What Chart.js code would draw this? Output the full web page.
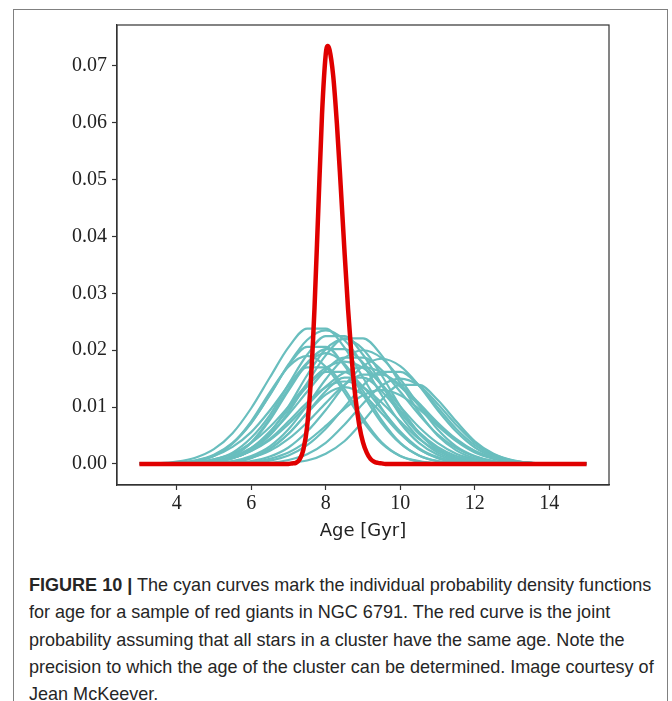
<!DOCTYPE html>
<html>
<head>
<meta charset="utf-8">
<script src="https://cdn.jsdelivr.net/npm/chart.js@4.4.1/dist/chart.umd.min.js"></script>
<style>
  html, body { margin:0; padding:0; background:#fff; width:672px; height:701px; overflow:hidden; }
  #frame { position:absolute; left:13px; top:9px; width:653px; height:720px; border:1.5px solid #808080; border-bottom:none; }
  #plot { position:absolute; left:0; top:0; }
  #caption { position:absolute; left:29px; top:571px; font-family:"Liberation Sans", Arial, sans-serif; font-size:18.5px; line-height:27.3px; color:#262626; white-space:nowrap; transform:scaleX(0.975); transform-origin:0 0; }
  #caption b { font-weight:bold; }
</style>
</head>
<body>
<div id="frame"></div>
<canvas id="plot" width="672" height="560"></canvas>
<div id="caption"><b>FIGURE 10 |</b> The cyan curves mark the individual probability density functions<br>for age for a sample of red giants in NGC 6791. The red curve is the joint<br>probability assuming that all stars in a cluster have the same age. Note the<br>precision to which the age of the cluster can be determined. Image courtesy of<br>Jean McKeever.</div>
<script>
// age grid (Gyr) shared by the individual star pdfs
const ageGrid = [3.0,3.5,4.0,4.5,5.0,5.5,6.0,6.5,7.0,7.5,8.0,8.5,9.0,9.5,10.0,10.5,11.0,11.5,12.0,12.5,13.0,13.5,14.0,14.5,15.0];

// individual pdfs, density x 1000
const star01 = [0,0.1,0.4,1.1,2.6,5.4,9.8,15.2,20.5,23.8,23.8,20.5,15.2,9.8,5.4,2.6,1.1,0.4,0.1,0,0,0,0,0,0];
const star02 = [0,0.1,0.2,0.6,1.6,3.7,7.2,12.1,17.5,21.8,23.5,21.8,17.5,12.1,7.2,3.7,1.6,0.6,0.2,0.1,0,0,0,0,0];
const star03 = [0,0,0.1,0.3,0.8,2.0,4.6,8.6,14.0,19.2,22.5,22.5,19.2,14.0,8.6,4.6,2.0,0.8,0.3,0.1,0,0,0,0,0];
const star04 = [0,0,0,0.1,0.4,1.0,2.4,5.0,9.1,14.2,19.1,22.1,22.1,19.1,14.2,9.1,5.0,2.4,1.0,0.4,0.1,0,0,0,0];
const star05 = [0,0,0,0.1,0.3,1.0,2.5,5.5,10.1,15.6,20.2,22.0,20.2,15.6,10.1,5.5,2.5,1.0,0.3,0.1,0,0,0,0,0];
const star06 = [0,0,0.2,0.5,1.5,3.6,7.2,12.2,17.3,20.6,20.6,17.3,12.2,7.2,3.6,1.5,0.5,0.2,0,0,0,0,0,0,0];
const star07 = [0,0.1,0.2,0.6,1.4,3.0,5.6,9.4,13.8,17.8,20.2,20.2,17.8,13.8,9.4,5.6,3.0,1.4,0.6,0.2,0.1,0,0,0,0];
const star08 = [0,0,0,0.1,0.2,0.5,1.4,3.1,6.1,10.3,14.9,18.6,20.0,18.6,14.9,10.3,6.1,3.1,1.4,0.5,0.2,0.1,0,0,0];
const star09 = [0,0,0,0.1,0.5,1.5,3.7,7.7,12.9,17.6,19.5,17.6,12.9,7.7,3.7,1.5,0.5,0.1,0,0,0,0,0,0,0];
const star10 = [0,0,0.1,0.2,0.5,1.3,2.8,5.2,8.7,12.7,16.5,18.7,18.7,16.5,12.7,8.7,5.2,2.8,1.3,0.5,0.2,0.1,0,0,0];
const star11 = [0,0,0,0,0,0.2,0.5,1.3,2.9,5.7,9.5,13.8,17.2,18.5,17.2,13.8,9.5,5.7,2.9,1.3,0.5,0.2,0,0,0];
const star12 = [0,0,0.1,0.3,0.8,1.8,3.7,6.5,10.1,14.0,16.9,18.0,16.9,14.0,10.1,6.5,3.7,1.8,0.8,0.3,0.1,0,0,0,0];
const star13 = [0,0,0,0.1,0.4,1.4,3.8,8.0,13.2,17.0,17.0,13.2,8.0,3.8,1.4,0.4,0.1,0,0,0,0,0,0,0,0];
const star14 = [0,0,0.1,0.2,0.5,1.1,2.3,4.2,7.0,10.3,13.6,16.1,17.0,16.1,13.6,10.3,7.0,4.2,2.3,1.1,0.5,0.2,0.1,0,0];
const star15 = [0,0,0,0.1,0.4,1.2,2.8,5.7,9.6,13.6,16.2,16.2,13.6,9.6,5.7,2.8,1.2,0.4,0.1,0,0,0,0,0,0];
const star16 = [0,0,0,0.1,0.2,0.4,1.1,2.3,4.4,7.3,10.7,13.9,15.7,15.7,13.9,10.7,7.3,4.4,2.3,1.1,0.4,0.2,0.1,0,0];
const star17 = [0,0,0,0,0.1,0.4,1.1,2.7,5.3,9.0,12.8,15.2,15.2,12.8,9.0,5.3,2.7,1.1,0.4,0.1,0,0,0,0,0];
const star18 = [0,0,0,0,0,0,0.1,0.2,0.7,1.7,3.7,6.9,10.6,13.8,15.0,13.8,10.6,6.9,3.7,1.7,0.7,0.2,0.1,0,0];
const star19 = [0,0,0,0.1,0.4,1.0,2.3,4.4,7.5,10.8,13.5,14.5,13.5,10.8,7.5,4.4,2.3,1.0,0.4,0.1,0,0,0,0,0];
const star20 = [0,0,0,0,0,0,0,0,0.2,0.6,1.8,4.0,7.5,11.3,13.9,13.9,11.3,7.5,4.0,1.8,0.6,0.2,0,0,0];
const star21 = [0,0,0,0,0.1,0.3,1.0,2.6,5.3,8.9,12.2,13.5,12.2,8.9,5.3,2.6,1.0,0.3,0.1,0,0,0,0,0,0];
const star22 = [0,0,0,0,0,0.1,0.3,0.9,2.0,4.0,6.7,9.7,12.1,13.0,12.1,9.7,6.7,4.0,2.0,0.9,0.3,0.1,0,0,0];
const star23 = [0,0,0.1,0.5,1.4,3.6,7.5,12.6,17.1,19.0,17.1,12.6,7.5,3.6,1.4,0.5,0.1,0,0,0,0,0,0,0,0];
const star24 = [0,0,0,0,0,0.1,0.2,0.6,1.5,3.3,6.2,10.0,13.8,16.2,16.2,13.8,10.0,6.2,3.3,1.5,0.6,0.2,0.1,0,0];

// joint pdf of the cluster, density x 1000
const jointAge = [3.0,6.9,7.0,7.1,7.2,7.3,7.4,7.5,7.6,7.7,7.8,7.9,8.0,8.05,8.1,8.2,8.3,8.4,8.5,8.6,8.7,8.8,8.9,9.0,9.1,9.2,9.3,9.4,9.5,9.6,15.0];
const jointPdf = [0,0,0,0.1,0.2,0.8,2.5,6.5,14.6,27.6,44.6,61.4,72.0,73.5,72.9,68.3,59.8,49.1,37.8,27.2,18.3,11.5,6.8,3.8,2.0,0.9,0.4,0.2,0.1,0,0];

const xTicks = [4,6,8,10,12,14];
const yTicks = [0,0.01,0.02,0.03,0.04,0.05,0.06,0.07];
const yTickLabels = ['0.00','0.01','0.02','0.03','0.04','0.05','0.06','0.07'];

const cyanPdfs = [star01,star02,star03,star04,star05,star06,star07,star08,star09,star10,star11,star12,
                  star13,star14,star15,star16,star17,star18,star19,star20,star21,star22,star23,star24];

const toPoints = (xs, ys) => xs.map((x, i) => ({x: x, y: ys[i] / 1000}));

// red first so it sits on top
const datasets = [{
  label: 'joint',
  data: toPoints(jointAge, jointPdf),
  borderColor: '#e00000',
  borderWidth: 4.5,
  borderJoinStyle: 'round',
  pointRadius: 0,
  cubicInterpolationMode: 'monotone'
}];
cyanPdfs.forEach((pdf, i) => {
  datasets.push({
    label: 'star ' + (i + 1),
    data: toPoints(ageGrid, pdf),
    borderColor: '#69bebe',
    borderWidth: 2.2,
    pointRadius: 0,
    cubicInterpolationMode: 'monotone'
  });
});

const axisColor = '#333';

// top and right spines
const boxPlugin = {
  id: 'boxPlugin',
  afterDraw(chart) {
    const ctx = chart.ctx, a = chart.chartArea;
    ctx.save();
    ctx.strokeStyle = axisColor;
    ctx.lineWidth = 1.2;
    ctx.strokeRect(a.left, a.top, a.right - a.left, a.bottom - a.top);
    ctx.restore();
  }
};

new Chart(document.getElementById('plot'), {
  type: 'line',
  data: { datasets: datasets },
  options: {
    responsive: false,
    animation: false,
    devicePixelRatio: 1,
    layout: { padding: { left: 0, right: 63, top: 25, bottom: 0 } },
    plugins: { legend: { display: false }, tooltip: { enabled: false } },
    scales: {
      x: {
        type: 'linear',
        min: 2.4,
        max: 15.6,
        afterBuildTicks: s => { s.ticks = xTicks.map(v => ({value: v})); },
        afterFit: s => { s.height = 75; },
        ticks: {
          autoSkip: false, maxRotation: 0, padding: 2, color: '#222',
          font: { family: 'Liberation Serif', size: 20 },
          callback: v => String(v)
        },
        grid: { drawOnChartArea: false, tickLength: 5, tickWidth: 1.2, tickColor: axisColor },
        border: { display: true, color: axisColor, width: 1.2 },
        title: {
          display: true, text: 'Age [Gyr]', color: '#222',
          font: { family: 'DejaVu Sans', size: 18 },
          padding: { top: 4, bottom: 18 }
        }
      },
      y: {
        type: 'linear',
        min: -0.0037,
        max: 0.0772,
        afterBuildTicks: s => { s.ticks = yTicks.map(v => ({value: v})); },
        afterFit: s => { s.width = 117; },
        ticks: {
          autoSkip: false, padding: 5, color: '#222',
          font: { family: 'Liberation Serif', size: 20 },
          callback: (v, i) => yTickLabels[i]
        },
        grid: { drawOnChartArea: false, tickLength: 5, tickWidth: 1.2, tickColor: axisColor },
        border: { display: true, color: axisColor, width: 1.2 }
      }
    }
  },
  plugins: [boxPlugin]
});
</script>
</body>
</html>
